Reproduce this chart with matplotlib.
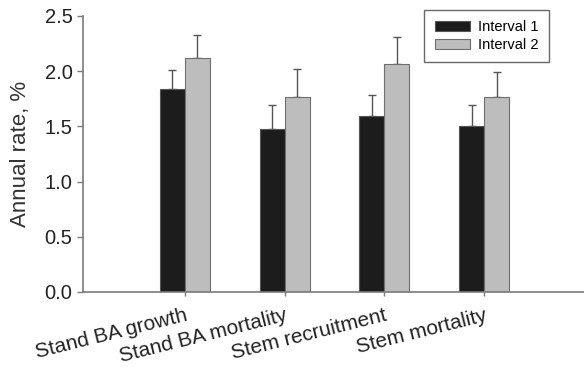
import matplotlib.pyplot as plt
import numpy as np

plt.rcParams['font.family'] = ['Liberation Sans', 'DejaVu Sans']

categories = ['Stand BA growth', 'Stand BA mortality', 'Stem recruitment', 'Stem mortality']
interval1 = [1.84, 1.48, 1.59, 1.50]
interval1_err = [0.17, 0.21, 0.19, 0.19]
interval2 = [2.12, 1.77, 2.06, 1.77]
interval2_err = [0.21, 0.25, 0.25, 0.22]

fig = plt.figure(figsize=(5.84, 3.70), dpi=100)
ax = fig.add_axes([0.142, 0.211, 0.858, 0.746])

x = np.arange(len(categories))
w = 0.25
spine_col = '#7a7a7a'
ax.bar(x - w / 2, interval1, w, color='#1c1c1c', edgecolor='#555555', linewidth=0.8,
       label='Interval 1', zorder=2)
ax.bar(x + w / 2, interval2, w, color='#bdbdbd', edgecolor='#6e6e6e', linewidth=0.8,
       label='Interval 2', zorder=2)
ax.errorbar(x - w / 2, interval1, yerr=[np.zeros(4), interval1_err], fmt='none',
            ecolor='#555555', elinewidth=1, capsize=3, capthick=1, zorder=1)
ax.errorbar(x + w / 2, interval2, yerr=[np.zeros(4), interval2_err], fmt='none',
            ecolor='#555555', elinewidth=1, capsize=3, capthick=1, zorder=1)

ax.set_xlim(-1.02, 4.0)
ax.set_ylim(0, 2.5)
ax.set_yticks([0, 0.5, 1.0, 1.5, 2.0, 2.5])
ax.set_yticklabels(['0.0', '0.5', '1.0', '1.5', '2.0', '2.5'], fontsize=14.5, color='#222222')
ax.set_xticks(x)
ax.set_xticklabels(categories, rotation=14, ha='right', rotation_mode='anchor',
                   fontsize=15, color='#222222')
ax.set_ylabel('Annual rate, %', fontsize=16, color='#333333', labelpad=10)

for s in ['top', 'right']:
    ax.spines[s].set_visible(False)
for s in ['left', 'bottom']:
    ax.spines[s].set_color(spine_col)
    ax.spines[s].set_linewidth(1.2)
ax.tick_params(axis='both', colors=spine_col, length=4, width=1)
ax.tick_params(axis='y', labelcolor='#222222')
ax.tick_params(axis='x', labelcolor='#222222', length=3, pad=7)

leg = ax.legend(loc='upper right', bbox_to_anchor=(549 / 584, 1 - 10 / 370),
                bbox_transform=fig.transFigure, borderaxespad=0, fontsize=10.5,
                fancybox=False, edgecolor='#444444', handlelength=2.4, handleheight=0.7,
                borderpad=0.7, labelspacing=0.25, handletextpad=0.6)
leg.get_frame().set_linewidth(1)

fig.savefig('out.png', dpi=100)
